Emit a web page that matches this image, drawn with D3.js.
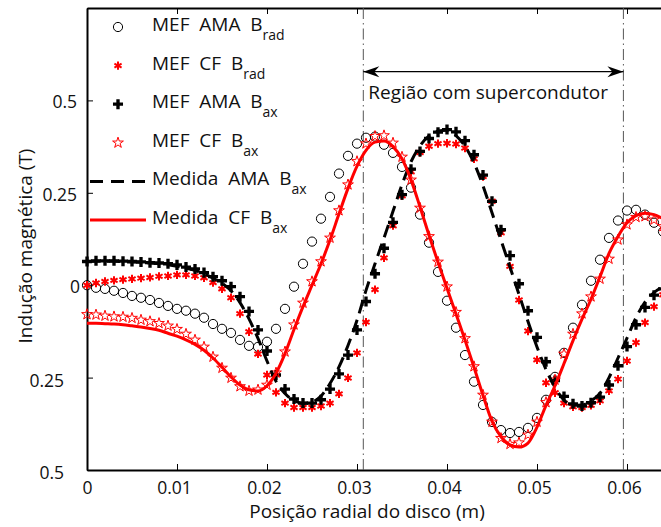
<!DOCTYPE html>
<html>
<head>
<meta charset="utf-8">
<script src="https://cdn.jsdelivr.net/npm/d3@7"></script>
<style>
  body { margin: 0; background: #fff; }
  svg { display: block; font-family: "Open Sans", sans-serif; }
</style>
</head>
<body>
<div id="chart"></div>
<script>
// radial position (m)
const radialPos = [0, 0.001, 0.002, 0.003, 0.004, 0.005, 0.006, 0.007, 0.008, 0.009,
  0.010, 0.011, 0.012, 0.013, 0.014, 0.015, 0.016, 0.017, 0.018, 0.019,
  0.020, 0.021, 0.022, 0.023, 0.024, 0.025, 0.026, 0.027, 0.028, 0.029,
  0.030, 0.031, 0.032, 0.033, 0.034, 0.035, 0.036, 0.037, 0.038, 0.039,
  0.040, 0.041, 0.042, 0.043, 0.044, 0.045, 0.046, 0.047, 0.048, 0.049,
  0.050, 0.051, 0.052, 0.053, 0.054, 0.055, 0.056, 0.057, 0.058, 0.059,
  0.060, 0.061, 0.062, 0.063, 0.064];

// MEF AMA B_rad (circles)
const mefAmaBrad = [0.000, -0.007, -0.010, -0.015, -0.021, -0.029, -0.034, -0.040, -0.048, -0.056,
  -0.064, -0.069, -0.077, -0.088, -0.105, -0.118, -0.129, -0.148, -0.164, -0.167,
  -0.153, -0.118, -0.064, -0.004, 0.058, 0.118, 0.180, 0.239, 0.302, 0.350,
  0.383, 0.399, 0.402, 0.380, 0.358, 0.320, 0.264, 0.191, 0.115, 0.036,
  -0.042, -0.115, -0.189, -0.261, -0.324, -0.370, -0.392, -0.400, -0.397, -0.386,
  -0.359, -0.310, -0.248, -0.183, -0.115, -0.053, 0.012, 0.069, 0.128, 0.175,
  0.202, 0.204, 0.191, 0.169, 0.145];

// MEF CF B_rad (red asterisks)
const mefCfBrad = [0.000, 0.006, 0.010, 0.013, 0.015, 0.017, 0.019, 0.021, 0.024, 0.025,
  0.028, 0.028, 0.025, 0.020, 0.007, -0.010, -0.034, -0.077, -0.126, -0.186,
  -0.243, -0.290, -0.319, -0.331, -0.331, -0.331, -0.327, -0.319, -0.294, -0.251,
  -0.183, -0.100, -0.012, 0.074, 0.161, 0.242, 0.307, 0.359, 0.376, 0.383,
  0.384, 0.382, 0.371, 0.342, 0.294, 0.227, 0.142, 0.051, -0.040, -0.124,
  -0.202, -0.264, -0.291, -0.319, -0.329, -0.331, -0.325, -0.313, -0.286, -0.254,
  -0.205, -0.155, -0.101, -0.058, -0.026];

// MEF AMA B_ax (black plus)
const mefAmaBax = [0.064, 0.066, 0.066, 0.066, 0.065, 0.064, 0.063, 0.061, 0.060, 0.058,
  0.055, 0.049, 0.044, 0.034, 0.023, 0.012, -0.004, -0.031, -0.071, -0.121,
  -0.178, -0.243, -0.281, -0.308, -0.319, -0.319, -0.310, -0.281, -0.240, -0.189,
  -0.121, -0.044, 0.031, 0.100, 0.170, 0.245, 0.314, 0.362, 0.397, 0.414,
  0.421, 0.415, 0.391, 0.353, 0.298, 0.227, 0.150, 0.080, 0.004, -0.069,
  -0.141, -0.207, -0.258, -0.301, -0.321, -0.327, -0.318, -0.303, -0.270, -0.218,
  -0.166, -0.107, -0.060, -0.027, -0.010];

// MEF CF B_ax (red stars)
const mefCfBax = [-0.079, -0.080, -0.083, -0.085, -0.086, -0.089, -0.094, -0.098, -0.103, -0.110,
  -0.119, -0.132, -0.148, -0.167, -0.194, -0.224, -0.251, -0.274, -0.286, -0.283,
  -0.270, -0.237, -0.180, -0.107, -0.048, 0.010, 0.064, 0.128, 0.202, 0.272,
  0.335, 0.383, 0.403, 0.405, 0.385, 0.347, 0.285, 0.209, 0.132, 0.063,
  -0.004, -0.073, -0.144, -0.220, -0.297, -0.370, -0.414, -0.430, -0.426, -0.405,
  -0.370, -0.317, -0.256, -0.186, -0.132, -0.077, -0.031, 0.017, 0.071, 0.123,
  0.164, 0.184, 0.186, 0.177, 0.159];

// Medida AMA B_ax (black dashed)
const medAmaBax = [0.064, 0.065, 0.065, 0.065, 0.064, 0.063, 0.062, 0.060, 0.058, 0.055,
  0.051, 0.046, 0.040, 0.031, 0.019, 0.005, -0.015, -0.047, -0.091, -0.144,
  -0.205, -0.260, -0.293, -0.312, -0.320, -0.316, -0.300, -0.266, -0.221, -0.163,
  -0.095, -0.014, 0.058, 0.128, 0.200, 0.272, 0.334, 0.377, 0.404, 0.417,
  0.419, 0.405, 0.376, 0.331, 0.269, 0.196, 0.122, 0.049, -0.025, -0.098,
  -0.167, -0.228, -0.276, -0.311, -0.325, -0.324, -0.313, -0.292, -0.250, -0.197,
  -0.143, -0.088, -0.046, -0.020, -0.004];

// Medida CF B_ax (red solid)
const medCfBax = [-0.103, -0.103, -0.104, -0.105, -0.107, -0.110, -0.113, -0.117, -0.122, -0.130,
  -0.138, -0.148, -0.160, -0.176, -0.197, -0.222, -0.248, -0.270, -0.283, -0.286,
  -0.272, -0.238, -0.185, -0.120, -0.058, 0.000, 0.058, 0.122, 0.193, 0.262,
  0.322, 0.365, 0.387, 0.390, 0.375, 0.342, 0.285, 0.212, 0.135, 0.062,
  -0.008, -0.078, -0.148, -0.222, -0.298, -0.368, -0.410, -0.432, -0.438, -0.427,
  -0.384, -0.325, -0.272, -0.212, -0.150, -0.092, -0.038, 0.023, 0.086, 0.132,
  0.169, 0.188, 0.195, 0.191, 0.180];

const xTicks = [0, 0.01, 0.02, 0.03, 0.04, 0.05, 0.06];
const yTicks = [-0.5, -0.25, 0, 0.25, 0.5];
const regionLimits = [0.0307, 0.0596];
const regionLabel = "Região com supercondutor";

const width = 661, height = 527;
const svg = d3.select("#chart").append("svg")
  .attr("width", width).attr("height", height);

const x = d3.scaleLinear().domain([0, 0.065]).range([87, 672]);
const y = d3.scaleLinear().domain([-0.5, 0.75]).range([470, 8]);

// axes, ticks pointing inward
const bottom = svg.append("g").attr("transform", "translate(0,470)")
  .call(d3.axisBottom(x).tickValues(xTicks).tickSize(-6).tickSizeOuter(0)
    .tickPadding(12).tickFormat(d => d === 0 ? "0" : d3.format(".2f")(d)));
bottom.selectAll("text").attr("dx", d => d === 0 ? 0 : -3);

svg.append("g").attr("transform", "translate(0,8)")
  .call(d3.axisTop(x).tickValues(xTicks).tickSize(-6).tickSizeOuter(0).tickFormat(""));

const left = svg.append("g").attr("transform", "translate(87,0)")
  .call(d3.axisLeft(y).tickValues(yTicks).tickSize(-6).tickSizeOuter(0)
    .tickFormat(d => d === 0 ? "0" : String(Math.abs(d))));
// minus signs are lost in the original, labels sit at different offsets
left.selectAll("text")
  .attr("x", d => d < 0 ? -23 : (d === 0 ? -7 : -10))
  .attr("dy", d => d < 0 ? "0.48em" : "0.42em");

svg.selectAll(".domain").attr("stroke", "#000").attr("stroke-width", 2);
svg.selectAll(".tick line").attr("stroke", "#000").attr("stroke-width", 1);
svg.selectAll(".tick text").attr("font-size", 17.5).attr("font-family", "Open Sans").attr("fill", "#111");

// axis titles
svg.append("text").attr("x", 367).attr("y", 518).attr("text-anchor", "middle")
  .attr("font-size", 19).attr("fill", "#111").text("Posição radial do disco (m)");
svg.append("text").attr("transform", "translate(32,246) rotate(-90)")
  .attr("text-anchor", "middle").attr("font-size", 19).attr("fill", "#111")
  .text("Indução magnética (T)");

// superconductor region
svg.selectAll(".region").data(regionLimits).enter().append("line")
  .attr("class", "region")
  .attr("x1", d => x(d)).attr("x2", d => x(d))
  .attr("y1", y(0.75)).attr("y2", y(-0.5))
  .attr("stroke", "#555").attr("stroke-width", 1)
  .attr("stroke-dasharray", "11,4,1.5,4");

const arrowY = 71.7;
svg.append("line")
  .attr("x1", x(regionLimits[0])).attr("x2", x(regionLimits[1]))
  .attr("y1", arrowY).attr("y2", arrowY)
  .attr("stroke", "#000").attr("stroke-width", 1.2);
const head = (tx, dir) => `M${tx},${arrowY}L${tx + dir * 16},${arrowY - 5.5}L${tx + dir * 11},${arrowY}L${tx + dir * 16},${arrowY + 5.5}Z`;
svg.append("path").attr("d", head(x(regionLimits[0]), 1)).attr("fill", "#000");
svg.append("path").attr("d", head(x(regionLimits[1]), -1)).attr("fill", "#000");
svg.append("text").attr("x", x(regionLimits[0]) + 5).attr("y", 99)
  .attr("font-size", 19).attr("fill", "#111").text(regionLabel);

// series
const pts = vals => radialPos.map((p, i) => [p, vals[i]]);
const symCross = d3.symbol().type(d3.symbolCross).size(56);
const symStar = d3.symbol().type(d3.symbolStar).size(36);
const symAst = d3.symbol().type(d3.symbolAsterisk).size(48);

svg.append("g").selectAll("circle").data(pts(mefAmaBrad)).enter().append("circle")
  .attr("cx", d => x(d[0])).attr("cy", d => y(d[1])).attr("r", 4.6)
  .attr("fill", "none").attr("stroke", "#000").attr("stroke-width", 1);

svg.append("g").selectAll("path").data(pts(mefCfBrad)).enter().append("path")
  .attr("transform", d => `translate(${x(d[0])},${y(d[1])})`)
  .attr("d", symAst).attr("fill", "none").attr("stroke", "#f00").attr("stroke-width", 2);

svg.append("g").selectAll("path").data(pts(mefAmaBax)).enter().append("path")
  .attr("transform", d => `translate(${x(d[0])},${y(d[1])})`)
  .attr("d", symCross).attr("fill", "#000");

svg.append("g").selectAll("path").data(pts(mefCfBax)).enter().append("path")
  .attr("transform", d => `translate(${x(d[0])},${y(d[1])})`)
  .attr("d", symStar).attr("fill", "none").attr("stroke", "#f00").attr("stroke-width", 1);

const line = d3.line().x(d => x(d[0])).y(d => y(d[1])).curve(d3.curveMonotoneX);
svg.append("path").attr("d", line(pts(medAmaBax)))
  .attr("fill", "none").attr("stroke", "#000").attr("stroke-width", 3)
  .attr("stroke-dasharray", "13,7");
svg.append("path").attr("d", line(pts(medCfBax)))
  .attr("fill", "none").attr("stroke", "#f00").attr("stroke-width", 3);

// legend
const legendItems = [
  { name: "MEF  AMA  B", sub: "rad", kind: "circle" },
  { name: "MEF  CF  B", sub: "rad", kind: "ast" },
  { name: "MEF  AMA  B", sub: "ax", kind: "cross" },
  { name: "MEF  CF  B", sub: "ax", kind: "star" },
  { name: "Medida  AMA  B", sub: "ax", kind: "dash" },
  { name: "Medida  CF  B", sub: "ax", kind: "solid" }
];
const lg = svg.append("g");
legendItems.forEach((it, i) => {
  const cy = 27 + i * 38.6;
  const g = lg.append("g");
  if (it.kind === "circle") g.append("circle").attr("cx", 118).attr("cy", cy).attr("r", 4.6).attr("fill", "none").attr("stroke", "#000");
  if (it.kind === "ast") g.append("path").attr("transform", `translate(118,${cy})`).attr("d", symAst).attr("fill", "none").attr("stroke", "#f00").attr("stroke-width", 2);
  if (it.kind === "cross") g.append("path").attr("transform", `translate(118,${cy})`).attr("d", symCross).attr("fill", "#000");
  if (it.kind === "star") g.append("path").attr("transform", `translate(118,${cy})`).attr("d", symStar).attr("fill", "none").attr("stroke", "#f00");
  if (it.kind === "dash") g.append("line").attr("x1", 90).attr("x2", 145).attr("y1", cy).attr("y2", cy).attr("stroke", "#000").attr("stroke-width", 3).attr("stroke-dasharray", "13,8");
  if (it.kind === "solid") g.append("line").attr("x1", 90).attr("x2", 146).attr("y1", cy).attr("y2", cy).attr("stroke", "#f00").attr("stroke-width", 3);
  const t = g.append("text").attr("xml:space", "preserve").style("white-space", "pre")
    .attr("x", 152).attr("y", cy + 4)
    .attr("font-size", 19).attr("fill", "#111");
  t.append("tspan").style("white-space", "pre").text(it.name);
  t.append("tspan").attr("dy", 9).attr("font-size", 14).text(it.sub);
});
</script>
</body>
</html>
